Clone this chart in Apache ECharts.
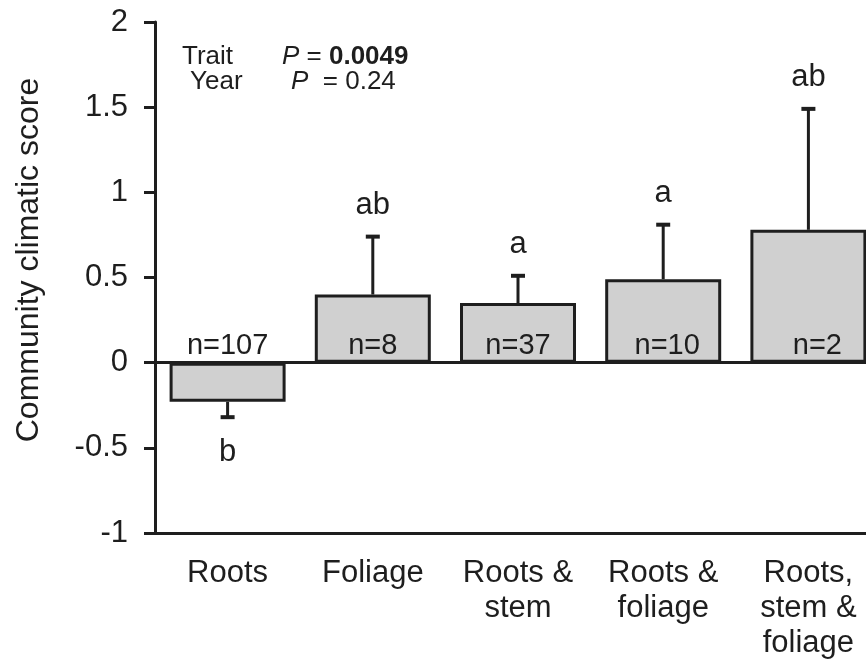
<!DOCTYPE html>
<html>
<head>
<meta charset="utf-8">
<script src="https://cdn.jsdelivr.net/npm/echarts@6/dist/echarts.min.js"></script>
<style>
html,body{margin:0;padding:0;background:#fff;overflow:hidden;width:866px;height:669px;}
#main{width:881px;height:669px;}
</style>
</head>
<body>
<div id="main"></div>
<script>
var categories = ['Roots', 'Foliage', 'Roots &\nstem', 'Roots &\nfoliage', 'Roots,\nstem &\nfoliage'];
var means = [-0.23, 0.40, 0.35, 0.49, 0.78];
var errors = [0.09, 0.34, 0.16, 0.32, 0.71];
var letters = ['b', 'ab', 'a', 'a', 'ab'];
var nLabels = ['n=107', 'n=8', 'n=37', 'n=10', 'n=2'];
var yTicks = { min: -1, max: 2, interval: 0.5 };
var yTitle = 'Community climatic score';

var FONT = '"Liberation Sans", Arial, sans-serif';
var INK = '#1e1e1e';

var chart = echarts.init(document.getElementById('main'), null, { renderer: 'canvas' });

var errData = means.map(function (m, i) { return [i, m, errors[i]]; });

var option = {
  animation: false,
  backgroundColor: '#fff',
  grid: { left: 155, top: 22, right: 0, bottom: 136, containLabel: false },
  xAxis: [{
    type: 'category',
    data: categories,
    position: 'bottom',
    axisLine: { onZero: false, lineStyle: { color: INK, width: 3 } },
    axisTick: { show: false },
    axisLabel: { color: INK, fontSize: 31, fontFamily: FONT, margin: 23, lineHeight: 35, interval: 0 }
  }, {
    type: 'category',
    data: categories,
    position: 'top',
    axisLine: { show: true, lineStyle: { color: INK, width: 3 } },
    axisTick: { show: false },
    axisLabel: { show: false }
  }],
  yAxis: {
    type: 'value',
    min: yTicks.min, max: yTicks.max, interval: yTicks.interval,
    axisLine: { show: true, lineStyle: { color: INK, width: 3 } },
    axisTick: { show: true, length: 11, lineStyle: { color: INK, width: 3 } },
    splitLine: { show: false },
    axisLabel: { color: INK, fontSize: 31, fontFamily: FONT, margin: 27 }
  },
  graphic: [{
    type: 'text',
    rotation: Math.PI / 2,
    x: 29, y: 260,
    style: { text: yTitle, fill: INK, font: '32px ' + FONT, textAlign: 'center', textVerticalAlign: 'middle' }
  }, {
    type: 'text', x: 182, y: 57,
    style: { text: 'Trait', fill: INK, font: '26px ' + FONT, textVerticalAlign: 'middle' }
  }, {
    type: 'text', x: 282, y: 57,
    style: {
      text: '{i|P} = {b|0.0049}', textVerticalAlign: 'middle',
      rich: {
        i: { fontStyle: 'italic', fontSize: 26, fontFamily: FONT, fill: INK },
        b: { fontWeight: 'bold', fontSize: 26, fontFamily: FONT, fill: INK }
      },
      fill: INK, font: '26px ' + FONT
    }
  }, {
    type: 'text', x: 190, y: 82,
    style: { text: 'Year', fill: INK, font: '26px ' + FONT, textVerticalAlign: 'middle' }
  }, {
    type: 'text', x: 291, y: 82,
    style: {
      text: '{i|P}  = 0.24', textVerticalAlign: 'middle',
      rich: { i: { fontStyle: 'italic', fontSize: 26, fontFamily: FONT, fill: INK } },
      fill: INK, font: '26px ' + FONT
    }
  }],
  series: [{
    type: 'bar',
    data: means,
    barWidth: 116,
    itemStyle: { color: '#d0d0d0', borderColor: INK, borderWidth: 3 },
    z: 2,
    markLine: {
      silent: true, symbol: 'none', label: { show: false },
      lineStyle: { color: INK, width: 3, type: 'solid' },
      data: [{ yAxis: 0 }]
    }
  }, {
    type: 'custom',
    z: 3,
    data: errData,
    renderItem: function (params, api) {
      var i = api.value(0), m = api.value(1), e = api.value(2);
      var dir = m >= 0 ? 1 : -1;
      var base = api.coord([i, m]);
      var end = api.coord([i, m + dir * e]);
      var zero = api.coord([i, 0]);
      var cap = 7;
      var children = [{
        type: 'line',
        shape: { x1: base[0], y1: base[1], x2: end[0], y2: end[1] },
        style: { stroke: INK, lineWidth: 3 }
      }, {
        type: 'line',
        shape: { x1: end[0] - cap, y1: end[1], x2: end[0] + cap, y2: end[1] },
        style: { stroke: INK, lineWidth: 4 }
      }, {
        type: 'text',
        x: end[0], y: end[1] + (dir > 0 ? -31 : 35),
        style: { text: letters[params.dataIndex], fill: INK, font: '31px ' + FONT, textAlign: 'center', textVerticalAlign: 'middle' }
      }, {
        type: 'text',
        x: zero[0] + (params.dataIndex === 4 ? 9 : (params.dataIndex === 3 ? 4 : 0)), y: zero[1] - 17,
        style: { text: nLabels[params.dataIndex], fill: INK, font: '29px ' + FONT, textAlign: 'center', textVerticalAlign: 'middle' }
      }];
      return { type: 'group', children: children };
    }
  }]
};
chart.setOption(option);
</script>
</body>
</html>
